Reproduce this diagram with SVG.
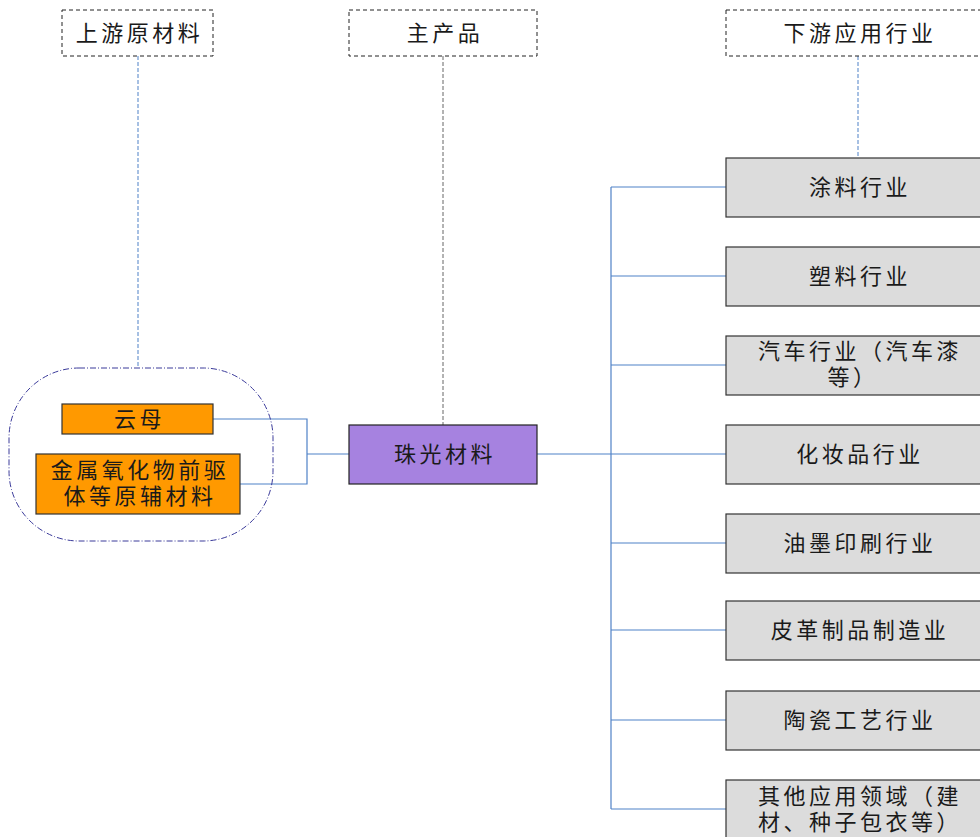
<svg xmlns="http://www.w3.org/2000/svg" width="980" height="837" viewBox="0 0 980 837">
<style>
text{font-family:"Liberation Serif","Noto Sans CJK SC",serif;font-size:22px;letter-spacing:3.5px;fill:#1a1a1a;text-anchor:middle;dominant-baseline:central}
.hdr{fill:#fff;stroke:#222;stroke-width:1;stroke-dasharray:4 3}
.gray{fill:#dcdcdc;stroke:#333;stroke-width:1.2}
.org{fill:#ff9900;stroke:#333;stroke-width:1.2}
.pur{fill:#a682e0;stroke:#222;stroke-width:1.2}
.con{fill:none;stroke:#4f81c7;stroke-width:1.2}
.dash{fill:none;stroke:#4f81c7;stroke-width:1;stroke-dasharray:4 2}
</style>
<rect width="980" height="837" fill="#fff"/>
<g id="connectors">
<line class="dash" x1="138" y1="56" x2="138" y2="368"/>
<line class="dash" x1="443" y1="56" x2="443" y2="425" style="stroke:#666"/>
<line class="dash" x1="858" y1="56" x2="858" y2="158"/>
<polyline class="con" points="213,419 307,419 307,484 240,484"/>
<line class="con" x1="307" y1="454" x2="349" y2="454"/>
<line class="con" x1="537" y1="454" x2="611" y2="454"/>
<line class="con" x1="611" y1="187" x2="611" y2="809"/>
<line class="con" x1="611" y1="187" x2="726" y2="187"/>
<line class="con" x1="611" y1="276" x2="726" y2="276"/>
<line class="con" x1="611" y1="365" x2="726" y2="365"/>
<line class="con" x1="611" y1="454" x2="726" y2="454"/>
<line class="con" x1="611" y1="543" x2="726" y2="543"/>
<line class="con" x1="611" y1="630" x2="726" y2="630"/>
<line class="con" x1="611" y1="720" x2="726" y2="720"/>
<line class="con" x1="611" y1="809" x2="726" y2="809"/>
</g>
<g id="upstream-header"><rect class="hdr" x="62" y="10" width="151" height="46"/><text x="139.5" y="33">上游原材料</text></g>
<g id="product-header"><rect class="hdr" x="349" y="10" width="188" height="46"/><text x="445" y="33">主产品</text></g>
<g id="downstream-header"><rect class="hdr" x="726" y="10" width="264" height="46"/><text x="860" y="33">下游应用行业</text></g>
<g id="upstream-group"><rect x="9" y="368" width="264" height="173" rx="70" ry="70" fill="none" stroke="#3a3a9a" stroke-width="1" stroke-dasharray="6 2 1 2"/></g>
<g id="mica"><rect class="org" x="62" y="404" width="151" height="30"/><text x="139.5" y="419">云母</text></g>
<g id="metal-oxide"><rect class="org" x="36" y="454" width="204" height="60"/><text x="140" y="470">金属氧化物前驱</text><text x="140" y="496">体等原辅材料</text></g>
<g id="pearl"><rect class="pur" x="349" y="425" width="188" height="59"/><text x="445" y="454">珠光材料</text></g>
<g id="coating"><rect class="gray" x="726" y="158" width="264" height="59"/><text x="860" y="187">涂料行业</text></g>
<g id="plastic"><rect class="gray" x="726" y="247" width="264" height="59"/><text x="860" y="276">塑料行业</text></g>
<g id="auto"><rect class="gray" x="726" y="336" width="264" height="59"/><text x="860" y="351">汽车行业（汽车漆</text><text x="853" y="377">等）</text></g>
<g id="cosmetic"><rect class="gray" x="726" y="425" width="264" height="59"/><text x="860" y="454">化妆品行业</text></g>
<g id="ink"><rect class="gray" x="726" y="514" width="264" height="59"/><text x="860" y="543">油墨印刷行业</text></g>
<g id="leather"><rect class="gray" x="726" y="601" width="264" height="59"/><text x="860" y="630">皮革制品制造业</text></g>
<g id="ceramic"><rect class="gray" x="726" y="691" width="264" height="59"/><text x="860" y="720">陶瓷工艺行业</text></g>
<g id="other"><rect class="gray" x="726" y="780" width="264" height="70"/><text x="860" y="796">其他应用领域（建</text><text x="860" y="822">材、种子包衣等）</text></g>
</svg>
